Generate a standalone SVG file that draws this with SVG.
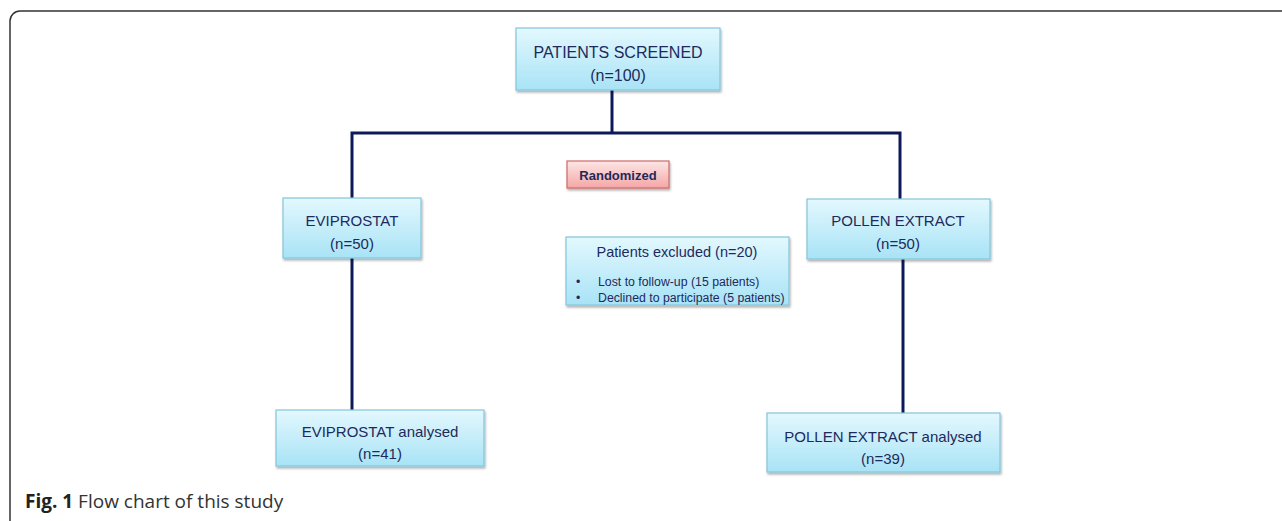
<svg xmlns="http://www.w3.org/2000/svg" width="1282" height="521" viewBox="0 0 1282 521">
<defs>
<linearGradient id="blue" x1="0" y1="0" x2="0" y2="1">
<stop offset="0" stop-color="#e3f8fe"/>
<stop offset="1" stop-color="#a8e3f6"/>
</linearGradient>
<linearGradient id="pink" x1="0" y1="0" x2="0" y2="1">
<stop offset="0" stop-color="#fde6e6"/>
<stop offset="1" stop-color="#f5a6a6"/>
</linearGradient>
<filter id="sh" x="-10%" y="-10%" width="120%" height="130%">
<feDropShadow dx="1" dy="2" stdDeviation="1.2" flood-color="#000" flood-opacity="0.3"/>
</filter>
</defs>
<style>
.box{fill:url(#blue);stroke:#84c6da;stroke-width:1.2;filter:url(#sh)}
.rbox{fill:url(#pink);stroke:#d06868;stroke-width:1.2;filter:url(#sh)}
.t{font-family:"Liberation Sans",Arial,sans-serif;font-size:15px;fill:#1e2a5c}
.c{text-anchor:middle}
.b{font-weight:bold}
.s{font-size:12.3px}
.conn{stroke:#0c1a5b;stroke-width:3;fill:none}
.frame{stroke:#333;stroke-width:1.5;fill:none}
.cap{font-family:"Open Sans","Liberation Sans",sans-serif;font-size:19px;fill:#333}
</style>
<rect width="1282" height="521" fill="#fff"/>
<path class="frame" d="M1282 11 H20 A10 10 0 0 0 10 21 V521"/>
<g id="connectors">
<line class="conn" x1="612" y1="90" x2="612" y2="133"/>
<polyline class="conn" points="352,198 352,133 900,133 900,199"/>
<line class="conn" x1="352" y1="258" x2="352" y2="410"/>
<line class="conn" x1="903" y1="259" x2="903" y2="413"/>
</g>
<g id="screened">
<rect class="box" x="516" y="28" width="204" height="62"/>
<text class="t c" x="618" y="58" style="font-size:16px">PATIENTS SCREENED</text>
<text class="t c" x="618" y="81" style="font-size:16px">(n=100)</text>
</g>
<g id="randomized">
<rect class="rbox" x="567" y="161" width="102" height="27"/>
<text class="t c b" x="618" y="180" style="font-size:13px">Randomized</text>
</g>
<g id="eviprostat">
<rect class="box" x="283" y="198" width="138" height="60"/>
<text class="t c" x="352" y="226">EVIPROSTAT</text>
<text class="t c" x="352" y="249">(n=50)</text>
</g>
<g id="pollen">
<rect class="box" x="807" y="199" width="183" height="60"/>
<text class="t c" x="898" y="226">POLLEN EXTRACT</text>
<text class="t c" x="898" y="249">(n=50)</text>
</g>
<g id="excluded">
<rect class="box" x="566" y="237" width="223" height="68"/>
<text class="t c" x="677" y="257" style="font-size:14.5px">Patients excluded (n=20)</text>
<text class="t s" x="576" y="286">•</text>
<text class="t s" x="598" y="286">Lost to follow-up (15 patients)</text>
<text class="t s" x="576" y="302">•</text>
<text class="t s" x="598" y="302">Declined to participate (5 patients)</text>
</g>
<g id="evi-analysed">
<rect class="box" x="276" y="410" width="208" height="56"/>
<text class="t c" x="380" y="437">EVIPROSTAT analysed</text>
<text class="t c" x="380" y="459">(n=41)</text>
</g>
<g id="pollen-analysed">
<rect class="box" x="767" y="413" width="233" height="59"/>
<text class="t c" x="883" y="442">POLLEN EXTRACT analysed</text>
<text class="t c" x="883" y="464">(n=39)</text>
</g>
<text class="cap" x="25" y="508"><tspan font-weight="bold" fill="#222">Fig. 1</tspan> Flow chart of this study</text>
</svg>
